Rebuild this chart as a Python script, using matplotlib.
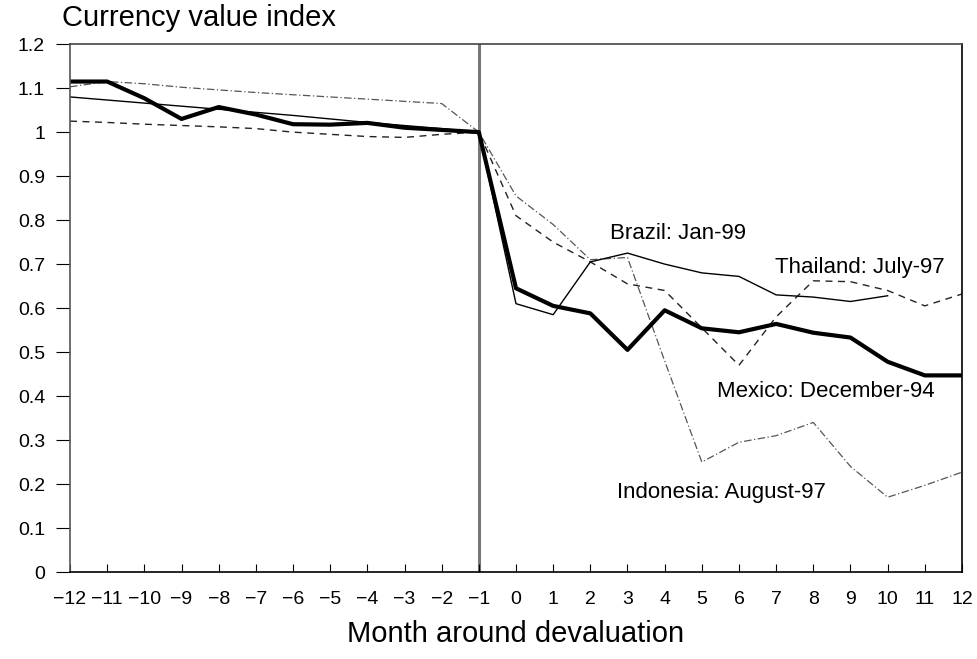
import matplotlib
matplotlib.use("Agg")
import matplotlib.pyplot as plt

plt.rcParams['font.family'] = ['Liberation Sans', 'DejaVu Sans']

months = list(range(-12, 13))

mexico = [1.115, 1.115, 1.077, 1.030, 1.057, 1.040, 1.018, 1.017, 1.021, 1.010, 1.005, 1.0,
          0.645, 0.605, 0.588, 0.505, 0.595, 0.554, 0.545, 0.564, 0.544, 0.533, 0.478, 0.447, 0.447]
brazil = [1.080, 1.073, 1.066, 1.059, 1.052, 1.045, 1.038, 1.030, 1.022, 1.015, 1.008, 1.0,
          0.610, 0.585, 0.705, 0.725, 0.700, 0.680, 0.672, 0.630, 0.625, 0.615, 0.628]
thailand = [1.025, 1.022, 1.018, 1.015, 1.012, 1.008, 1.000, 0.995, 0.990, 0.988, 0.995, 1.0,
            0.810, 0.750, 0.705, 0.655, 0.640, 0.555, 0.470, 0.580, 0.662, 0.660, 0.640, 0.605, 0.632]
indonesia = [1.103, 1.115, 1.110, 1.102, 1.096, 1.090, 1.085, 1.080, 1.075, 1.070, 1.065, 1.0,
             0.855, 0.790, 0.710, 0.715, 0.480, 0.250, 0.295, 0.310, 0.340, 0.240, 0.170, 0.197, 0.227]

labels = [("Brazil: Jan-99", 2.53, 0.77),
          ("Thailand: July-97", 6.97, 0.693),
          ("Mexico: December-94", 5.41, 0.41),
          ("Indonesia: August-97", 2.72, 0.18)]

fig = plt.figure(figsize=(9.78, 6.59), dpi=100)
ax = fig.add_axes([0.0716, 0.132, 0.912, 0.801])

ax.axvline(-1, color="#777777", lw=2.2, zorder=1)
ax.plot(months, indonesia, color="#555555", lw=0.9, ls=(0, (6, 2, 1, 2)))
ax.plot(months, thailand, color="#222222", lw=1.0, ls=(0, (5, 4)))
ax.plot(months[:len(brazil)], brazil, color="black", lw=1.0)
ax.plot(months, mexico, color="black", lw=3.0)

# country labels
for text, x, y in labels:
    ax.text(x, y, text, fontsize=16, va="center", ha="left")

ax.set_xlim(-12, 12)
ax.set_ylim(0, 1.2)
ax.set_xticks(months)
ax.set_yticks([i / 10 for i in range(13)])
ax.set_yticklabels(["0", "0.1", "0.2", "0.3", "0.4", "0.5", "0.6", "0.7", "0.8", "0.9", "1", "1.1", "1.2"])
ax.tick_params(axis="x", direction="in", length=6, labelsize=14, pad=14)
ax.tick_params(axis="y", direction="out", length=10, labelsize=14, pad=8)
for s in ax.spines.values():
    s.set_linewidth(1.2)
ax.spines["left"].set_color("#555555")
ax.spines["top"].set_color("#444444")

ax.set_xlabel("Month around devaluation", fontsize=21, labelpad=8)
fig.text(0.063, 0.972, "Currency value index", fontsize=21, ha="left", va="center")

fig.savefig("out.png", dpi=100)
